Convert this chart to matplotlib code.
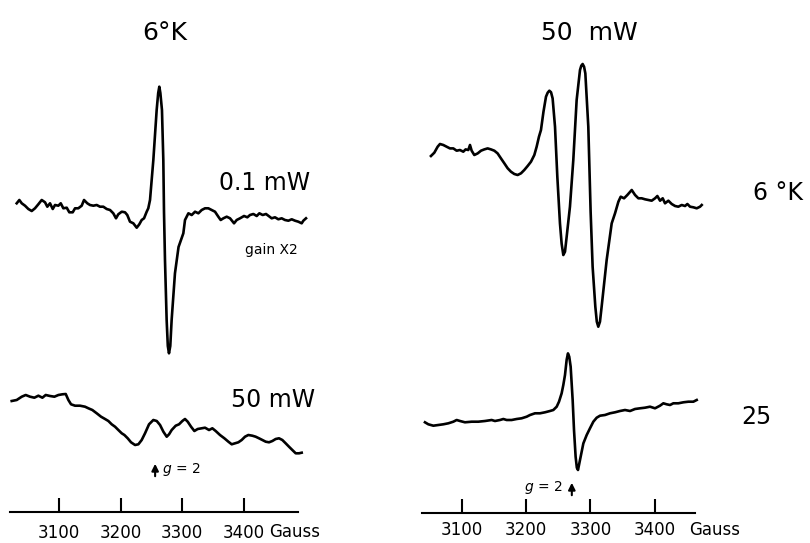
import matplotlib
matplotlib.use("Agg")
import matplotlib.pyplot as plt

# EPR traces: field in Gauss, signal in arbitrary units
# (each trace relative to its own baseline)

# left panel, 6 K, 0.1 mW (gain x2)
lt_field = [3031.3, 3035.6, 3039.5, 3044.8, 3050.2, 3055.7, 3061.0, 3066.4, 3071.9, 3077.3,
            3081.0, 3085.4, 3089.8, 3093.5, 3098.9, 3102.8, 3107.0, 3112.5, 3116.7, 3122.2,
            3126.0, 3131.3, 3136.8, 3140.6, 3145.9, 3150.3, 3155.7, 3161.2, 3166.5, 3171.9,
            3177.4, 3182.8, 3188.1, 3192.5, 3196.2, 3201.8, 3207.1, 3210.8, 3215.2, 3220.6,
            3226.1, 3230.3, 3234.2, 3238.0, 3242.3, 3244.9, 3247.7, 3253.1, 3258.5, 3261.0,
            3262.8, 3264.5, 3267.1, 3269.3, 3270.4, 3272.0, 3274.7, 3276.6, 3278.5, 3280.6,
            3282.8, 3288.2, 3294.0, 3301.8, 3304.5, 3310.0, 3315.4, 3320.8, 3326.2, 3331.6,
            3337.0, 3342.4, 3347.8, 3353.2, 3358.6, 3362.4, 3366.8, 3372.2, 3377.6, 3384.1,
            3388.4, 3393.8, 3400.3, 3405.7, 3410.0, 3415.5, 3420.9, 3425.2, 3430.6, 3436.0,
            3440.3, 3445.2, 3450.6, 3456.0, 3461.4, 3466.8, 3472.3, 3477.7, 3483.1, 3488.5,
            3493.9, 3496.6, 3500.9]
lt_signal = [8.7, 12.0, 8.7, 6.3, 3.0, 1.0, 3.7, 7.7, 12.0, 9.7,
             5.3, 8.7, 3.0, 7.0, 6.3, 8.7, 3.7, 4.3, -0.3, -0.3,
             3.7, 3.7, 6.3, 12.0, 8.7, 7.0, 6.3, 7.0, 5.3, 5.3,
             3.0, 2.0, -1.3, -6.3, -2.3, 0.3, -0.3, -3.0, -9.7, -11.3,
             -15.7, -12.3, -8.0, -6.3, 0.3, 3.7, 12.0, 52.0, 102.0, 119.0,
             125.3, 119.0, 102.0, 52.0, 0.3, -48.0, -108.0, -134.0, -141.3, -134.0,
             -108.0, -61.3, -35.0, -21.3, -8.0, -1.3, -3.0, 0.3, -1.3, 2.0,
             3.7, 3.7, 2.0, 0.3, -4.7, -8.0, -6.3, -4.7, -6.3, -11.3,
             -8.0, -6.3, -4.0, -5.3, -3.0, -2.0, -4.0, -1.3, -3.0, -2.0,
             -4.0, -6.3, -5.3, -7.3, -6.3, -8.0, -8.7, -7.3, -8.7, -9.7,
             -11.3, -8.7, -6.3]

# left panel, 50 mW
lb_field = [3023.2, 3031.3, 3039.5, 3045.9, 3053.0, 3060.0, 3066.5, 3073.0, 3078.4, 3085.4,
            3092.5, 3099.0, 3105.5, 3110.9, 3115.2, 3119.5, 3126.0, 3134.1, 3142.2, 3147.7,
            3154.1, 3161.2, 3168.2, 3174.7, 3180.1, 3185.5, 3190.9, 3196.3, 3201.8, 3206.1,
            3211.5, 3216.9, 3223.4, 3228.8, 3234.2, 3239.6, 3246.1, 3253.1, 3258.6, 3264.0,
            3269.4, 3274.8, 3278.6, 3282.9, 3289.4, 3294.8, 3300.2, 3304.5, 3308.9, 3314.3,
            3319.7, 3325.1, 3331.6, 3337.0, 3343.5, 3348.9, 3354.3, 3361.3, 3368.4, 3374.9,
            3380.3, 3385.7, 3391.1, 3396.5, 3401.9, 3407.3, 3413.8, 3419.2, 3424.6, 3430.1,
            3435.5, 3440.9, 3446.3, 3451.7, 3457.1, 3462.5, 3467.9, 3473.3, 3478.7, 3484.2,
            3489.6, 3493.9]
lb_signal = [-1.0, 0.0, 3.3, 5.0, 3.3, 2.3, 4.3, 2.3, 5.0, 4.0,
             3.3, 5.0, 5.7, 6.0, 0.0, -4.3, -5.7, -5.7, -6.7, -8.3,
             -10.0, -13.3, -16.7, -19.0, -21.0, -24.3, -26.7, -30.0, -33.3, -35.0,
             -38.3, -42.3, -45.0, -44.3, -40.0, -33.3, -24.3, -20.0, -21.0, -25.0,
             -31.7, -36.7, -34.3, -30.0, -25.7, -24.3, -21.0, -19.0, -21.7, -26.7,
             -31.0, -29.0, -28.3, -27.7, -30.0, -28.3, -31.0, -35.0, -38.3, -41.7,
             -44.3, -43.3, -42.3, -40.0, -36.7, -35.0, -35.7, -36.7, -38.3, -40.0,
             -41.7, -42.3, -41.0, -39.0, -38.3, -40.0, -43.3, -46.7, -50.0, -53.3,
             -53.3, -52.7]

# right panel, 50 mW, 6 K
rt_field = [3052.3, 3057.5, 3062.7, 3066.3, 3071.5, 3076.6, 3081.8, 3087.0, 3092.2, 3097.3,
            3102.5, 3106.1, 3110.3, 3112.9, 3115.5, 3119.6, 3124.8, 3130.0, 3135.1, 3140.3,
            3145.5, 3150.7, 3155.8, 3161.0, 3166.2, 3171.4, 3176.5, 3181.7, 3186.9, 3192.1,
            3197.2, 3202.4, 3207.6, 3212.8, 3216.4, 3220.0, 3223.1, 3227.0, 3230.9, 3233.5,
            3236.1, 3238.7, 3241.2, 3244.9, 3248.5, 3252.6, 3255.2, 3257.8, 3260.4, 3263.0,
            3268.1, 3273.3, 3278.5, 3283.7, 3285.7, 3287.8, 3290.0, 3292.0, 3296.6, 3300.2,
            3303.3, 3307.5, 3309.8, 3312.1, 3314.7, 3317.3, 3325.1, 3332.9, 3338.1, 3343.3,
            3346.9, 3352.1, 3357.2, 3364.0, 3369.2, 3374.3, 3379.5, 3384.7, 3389.9, 3395.0,
            3400.2, 3403.8, 3408.0, 3412.1, 3415.7, 3420.9, 3426.1, 3431.3, 3436.4, 3441.6,
            3446.8, 3450.4, 3454.6, 3459.7, 3464.9, 3470.1, 3472.7]
rt_signal = [55.7, 59.0, 65.0, 67.7, 66.7, 65.0, 63.3, 63.3, 61.0, 61.7,
             60.0, 62.3, 61.7, 66.7, 61.0, 56.7, 58.3, 61.0, 62.3, 63.3,
             62.3, 61.0, 58.3, 53.3, 48.4, 43.4, 40.0, 37.7, 36.7, 38.4,
             41.7, 45.7, 50.0, 56.7, 65.0, 75.0, 81.7, 100.0, 115.0, 119.0,
             121.0, 119.5, 113.3, 85.0, 35.0, -11.7, -32.0, -43.3, -40.0, -25.0,
             5.0, 51.7, 111.7, 141.7, 146.0, 147.7, 145.0, 138.3, 85.0, 0.0,
             -55.0, -95.0, -110.0, -115.0, -110.0, -95.0, -48.3, -11.7, -1.6, 10.0,
             15.0, 13.4, 16.7, 21.7, 16.7, 13.4, 13.4, 12.4, 11.7, 11.0,
             13.4, 15.7, 11.0, 13.4, 8.4, 11.0, 7.7, 5.7, 5.0, 6.7,
             5.7, 7.7, 5.0, 4.4, 3.4, 5.0, 6.7]

# right panel, 50 mW, 25 K
rb_field = [3043.0, 3048.2, 3056.0, 3063.7, 3071.5, 3079.3, 3087.0, 3092.2, 3097.4, 3105.1,
            3115.5, 3125.8, 3136.2, 3146.5, 3151.7, 3159.5, 3164.7, 3169.8, 3177.6, 3185.4,
            3193.1, 3200.9, 3206.1, 3213.8, 3221.6, 3229.4, 3237.1, 3242.3, 3247.5, 3251.1,
            3255.2, 3257.8, 3260.4, 3263.0, 3265.0, 3267.0, 3269.2, 3272.3, 3274.4, 3276.9,
            3278.8, 3280.6, 3283.7, 3288.9, 3294.1, 3299.2, 3304.4, 3309.6, 3314.8, 3322.5,
            3330.3, 3338.1, 3345.8, 3353.6, 3361.4, 3369.1, 3376.9, 3384.6, 3392.4, 3400.2,
            3407.9, 3413.1, 3418.3, 3423.5, 3428.6, 3436.4, 3444.2, 3451.9, 3459.7, 3464.9]
rb_signal = [-0.6, -2.6, -4.0, -3.3, -2.6, -1.6, 0.0, 1.7, 0.7, -0.6,
             0.0, 0.0, 0.7, 1.7, 0.7, 1.7, 2.7, 1.7, 1.7, 2.7,
             3.4, 5.0, 6.7, 8.4, 8.4, 9.4, 10.7, 11.7, 15.0, 20.0,
             28.4, 36.7, 46.7, 62.0, 68.3, 65.0, 55.0, 21.7, -8.3, -35.0,
             -46.0, -48.3, -38.3, -21.7, -13.3, -6.6, 0.0, 4.0, 6.0, 6.7,
             8.4, 9.4, 10.7, 11.7, 10.7, 12.7, 13.4, 14.0, 15.0, 13.4,
             16.0, 18.4, 17.4, 16.7, 18.4, 18.4, 19.4, 20.0, 20.0, 21.7]

ticks = [3100, 3200, 3300, 3400]

plt.rcParams['font.family'] = ['DejaVu Sans']
fig = plt.figure(figsize=(8.1, 5.43), dpi=100)
fig.patch.set_facecolor('white')

axL = fig.add_axes([0.0, 0.0, 0.5, 1.0])
axR = fig.add_axes([0.5, 0.0, 0.5, 1.0])
axL.set_xlim(3004.2, 3661.6)
axR.set_xlim(3012.0, 3640.8)

lw = 1.9
# baselines of the stacked traces
axL.plot(lt_field, [331 + s for s in lt_signal], color='black', lw=lw, solid_joinstyle='round')
axL.plot(lb_field, [143 + s for s in lb_signal], color='black', lw=lw, solid_joinstyle='round')
axR.plot(rt_field, [331.3 + s for s in rt_signal], color='black', lw=lw, solid_joinstyle='round')
axR.plot(rb_field, [121.3 + s for s in rb_signal], color='black', lw=lw, solid_joinstyle='round')

for ax, ybase, bounds, pad in [(axL, 31, (3020, 3488), 9), (axR, 30, (3038, 3463), 6)]:
    ax.set_ylim(0, 543)
    ax.set_facecolor('none')
    for side in ['top', 'left', 'right']:
        ax.spines[side].set_visible(False)
    ax.spines['bottom'].set_position(('data', ybase))
    ax.spines['bottom'].set_bounds(*bounds)
    ax.spines['bottom'].set_linewidth(1.5)
    ax.set_yticks([])
    ax.set_xticks(ticks)
    ax.tick_params(axis='x', direction='in', length=10, width=1.5, pad=pad, labelsize=12)

# labels, left
axL.text(3272, 510, "6°K", fontsize=18, ha='center', va='center')
axL.text(3433, 360, "0.1 mW", fontsize=17, ha='center', va='center')
axL.text(3444, 293, "gain X2", fontsize=10, ha='center', va='center')
axL.text(3447, 143, "50 mW", fontsize=17, ha='center', va='center')
axL.text(3267, 73, "$g$ = 2", fontsize=10, ha='left', va='center')
axL.annotate("", xy=(3256, 82), xytext=(3256, 64),
             arrowprops=dict(arrowstyle='-|>', color='black', lw=1.5, mutation_scale=10))
axL.text(3482, 11, "Gauss", fontsize=12, ha='center', va='center')

# labels, right
axR.text(3299, 510, "50  mW", fontsize=18, ha='center', va='center')
axR.text(3591, 350, "6 °K", fontsize=17, ha='center', va='center')
axR.text(3558, 126, "25", fontsize=17, ha='center', va='center')
axR.text(3257, 55, "$g$ = 2", fontsize=10, ha='right', va='center')
axR.annotate("", xy=(3271, 63), xytext=(3271, 45),
             arrowprops=dict(arrowstyle='-|>', color='black', lw=1.5, mutation_scale=10))
axR.text(3492, 13, "Gauss", fontsize=12, ha='center', va='center')

fig.savefig("out.png", dpi=100, facecolor='white')
